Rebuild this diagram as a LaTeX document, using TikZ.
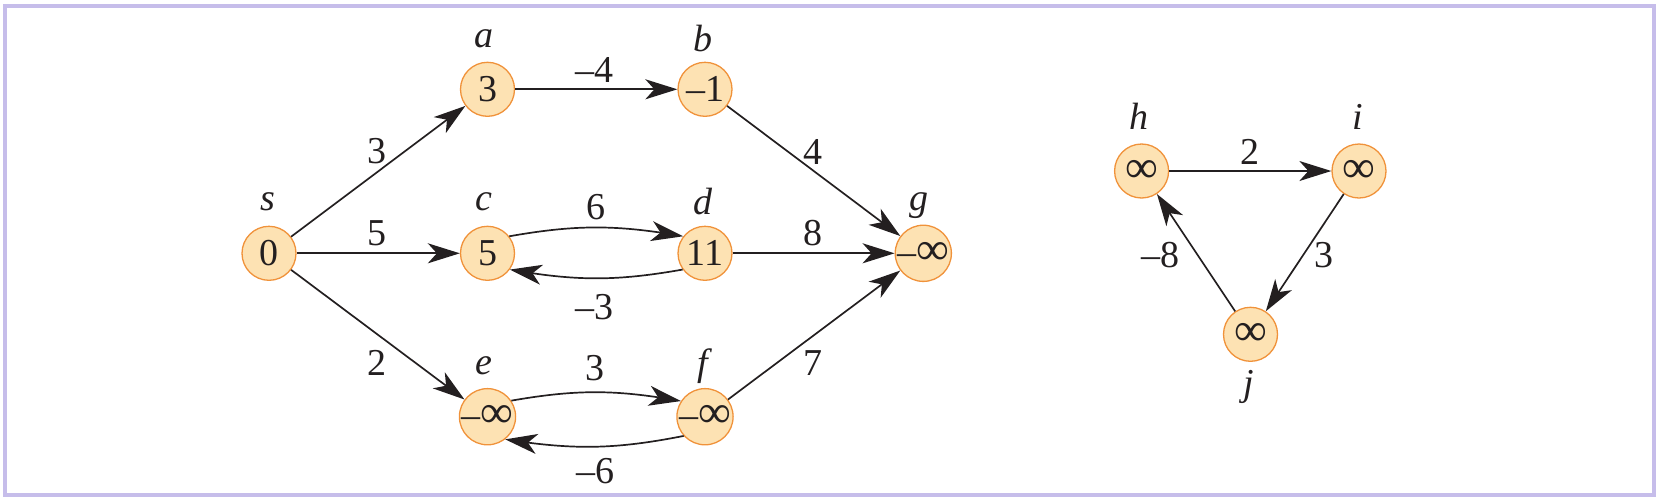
\documentclass[tikz,border=0pt]{standalone}
\usepackage{fontspec}
\setmainfont{Liberation Serif}
\usetikzlibrary{arrows.meta,bending}
\definecolor{framec}{HTML}{C6BDEA}
\definecolor{nodefill}{HTML}{FDE2B3}
\definecolor{nodedraw}{HTML}{F0923A}
\definecolor{inkc}{HTML}{231F20}
\newcommand{\infsym}{{\fontsize{23}{23}\selectfont ∞}}
\tikzset{
  vert/.style={circle, draw=nodedraw, fill=nodefill, line width=0.65pt, minimum size=27pt, inner sep=0pt, font=\fontsize{19}{22}\selectfont, text=inkc},
  vname/.style={font=\fontsize{19}{22}\selectfont\itshape, text=inkc, inner sep=0pt},
  wlab/.style={font=\fontsize{19}{22}\selectfont, text=inkc, inner sep=0pt},
  edge/.style={draw=inkc, line width=0.85pt, -{Stealth[length=16pt, width=10pt, inset=4.5pt]}},
}
\begin{document}
\begin{tikzpicture}[x=0.5pt, y=-0.5pt]
\useasboundingbox (0,0) rectangle (1658,500);
\draw[framec, line width=2pt] (4.5,6) rectangle (1653.5,494.5);
% vertices
\node[vert] (s) at (269,253.3) {0};
\node[vert] (a) at (487.5,89.3) {3};
\node[vert] (b) at (705,89.3) {–1};
\node[vert] (c) at (487.5,253.3) {5};
\node[vert] (d) at (705,253.3) {11};
\node[vert] (e) at (487.5,416.7) {–\infsym};
\node[vert] (f) at (705,416.7) {–\infsym};
\node[vert] (g) at (923.3,253.3) {–\infsym};
\node[vert] (h) at (1141.6,171) {\infsym};
\node[vert] (i) at (1359,171) {\infsym};
\node[vert] (j) at (1250.5,334.3) {\infsym};
% vertex names
\node[vname] (ls) at (268,201.7) {s};
\node[vname] (la) at (484,38.3) {a};
\node[vname] (lb) at (703,38.3) {b};
\node[vname] (lc) at (484,201.7) {c};
\node[vname] (ld) at (703,201.7) {d};
\node[vname] (le) at (484,366) {e};
\node[vname] (lf) at (703,366) {f};
\node[vname] (lg) at (919,206) {g};
\node[vname] (lh) at (1139,116.7) {h};
\node[vname] (li) at (1357.5,116.7) {i};
\node[vname] (lj) at (1249,386.7) {j};
% edges
\draw[edge] (s) -- (a);
\draw[edge] (s) -- (c);
\draw[edge] (s) -- (e);
\draw[edge] (a) -- (b);
\draw[edge] (b) -- (g);
\draw[edge] (d) -- (g);
\draw[edge] (f) -- (g);
\draw[edge] (c.38) to[bend left=10] (d.142);
\draw[edge] (d.216) to[bend left=10] (c.-36);
\draw[edge] (e.34) to[bend left=10] (f.147);
\draw[edge] (f.222) to[bend left=10] (e.-52);
\draw[edge] (h) -- (i);
\draw[edge] (i) -- (j);
\draw[edge] (j) -- (h);
% weights
\node[wlab] (w1) at (377,150.7) {3};
\node[wlab] (w2) at (377,233.3) {5};
\node[wlab] (w3) at (377,363.3) {2};
\node[wlab] (w4) at (594,70) {–4};
\node[wlab] (w5) at (596,206.7) {6};
\node[wlab] (w6) at (594,307.3) {–3};
\node[wlab] (w7) at (595,368.3) {3};
\node[wlab] (w8) at (595,470.7) {–6};
\node[wlab] (w9) at (813,151.7) {4};
\node[wlab] (w10) at (813,233.3) {8};
\node[wlab] (w11) at (813,363.3) {7};
\node[wlab] (w12) at (1250,151.7) {2};
\node[wlab] (w13) at (1324,255) {3};
\node[wlab] (w14) at (1160,255) {–8};
\end{tikzpicture}
\end{document}
